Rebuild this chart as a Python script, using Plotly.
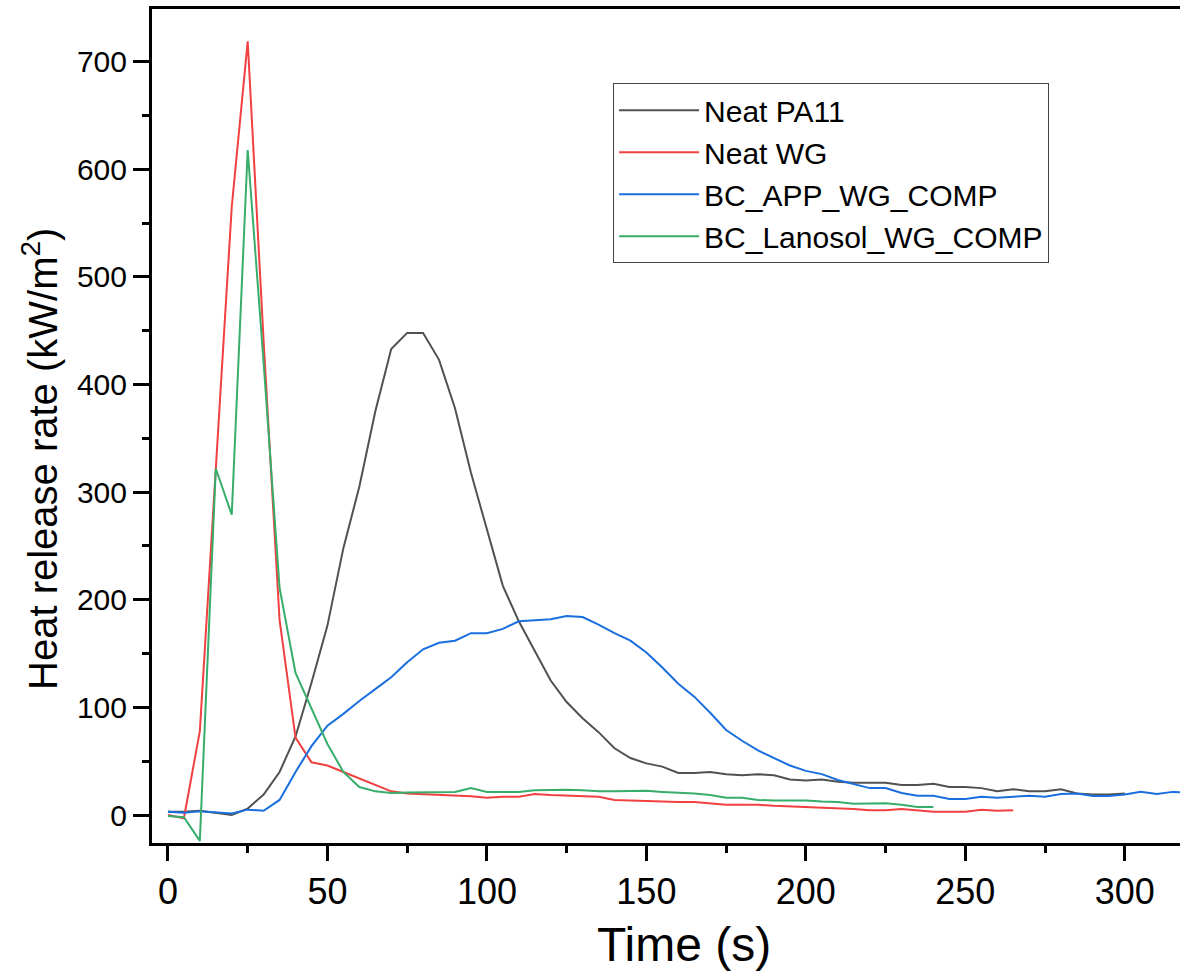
import plotly.graph_objects as go

# ---- data ----
time_pa11 = list(range(0, 305, 5))
neat_pa11 = [3, 3, 4, 2, 0, 6, 19, 40, 73, 123, 176, 248, 305, 375, 433, 448, 448, 423,
             378, 318, 265, 213, 180, 152, 125, 105, 90, 77, 62, 53, 48, 45, 39, 39, 40,
             38, 37, 38, 37, 33, 32, 33, 31, 30, 30, 30, 28, 28, 29, 26, 26, 25, 22, 24,
             22, 22, 24, 20, 19, 19, 20]

time_wg = list(range(0, 270, 5))
neat_wg = [0, -3, 78, 320, 565, 719, 440, 181, 72, 49, 46, 40, 34, 28, 22, 20, 19.5, 18.6,
           18, 17.5, 16, 17, 17, 19.5, 18.6, 18, 18, 17, 14, 13.5, 12.5, 12.5, 12, 12,
           10.5, 9.5, 9.5, 9.5, 8.5, 8, 7.5, 6.5, 6, 5.5, 4.5, 4.5, 5.5, 4, 3, 3, 3, 5,
           4, 4.5]

time_app = list(range(0, 325, 5))
bc_app = [3, 2, 3.5, 2.5, 1.5, 5, 4, 14, 40, 64, 83, 94, 106, 117, 128, 142, 154, 160,
          162, 169, 169, 173, 180, 181, 182, 185, 184, 177, 169, 162, 151, 137, 122, 110,
          95, 79, 69, 60, 53, 46, 41, 38, 32.5, 29, 25, 25, 20.5, 18, 18, 15, 15, 17, 16,
          17, 18, 17, 19.5, 20, 17.7, 17.7, 19, 21.5, 19.5, 21.5, 21]

time_lan = list(range(0, 245, 5))
bc_lanosol = [-1, -2, -24, 322, 279, 618, 420, 211, 132, 99, 66, 40, 26, 22, 20.5, 21, 21,
              21, 21.5, 25, 21.5, 21.5, 21.5, 23, 23.5, 23.5, 23, 22, 22, 22, 22.5, 21.5,
              21, 20, 18.6, 16, 16, 14, 13.5, 13.5, 13.5, 12.5, 12, 10.5, 10.5, 11, 9.5,
              7.5, 7.5]

series_names = ["Neat PA11", "Neat WG", "BC_APP_WG_COMP", "BC_Lanosol_WG_COMP"]
series_colors = ["#515151", "#F14040", "#1A6FDF", "#37AD6B"]

x_ticks = [0, 50, 100, 150, 200, 250, 300]
y_ticks = [0, 100, 200, 300, 400, 500, 600, 700]

FONT = "Arial, Liberation Sans, sans-serif"

fig = go.Figure()
for name, color, xs, ys in zip(series_names, series_colors,
                               [time_pa11, time_wg, time_app, time_lan],
                               [neat_pa11, neat_wg, bc_app, bc_lanosol]):
    fig.add_trace(go.Scatter(x=xs, y=ys, mode="lines", name=name,
                             line=dict(color=color, width=2)))

fig.update_layout(
    width=1180, height=975,
    margin=dict(l=152, r=0, t=9, b=132),
    plot_bgcolor="white", paper_bgcolor="white",
    font=dict(family=FONT, color="black"),
    showlegend=True,
    legend=dict(
        x=0.4485, y=0.911, xanchor="left", yanchor="top",
        bgcolor="white", bordercolor="#444444", borderwidth=1,
        font=dict(size=30, family=FONT, color="black"),
        itemwidth=80, tracegroupgap=0,
    ),
    xaxis=dict(
        range=[-5, 317.3], tickvals=x_ticks, showgrid=False, zeroline=False,
        showline=True, linecolor="black", linewidth=3, mirror=True,
        ticks="outside", ticklen=15, tickwidth=3, tickcolor="black",
        tickfont=dict(size=36, family=FONT, color="black"),
        minor=dict(dtick=25, ticks="outside", ticklen=7, tickwidth=3, tickcolor="black"),
    ),
    yaxis=dict(
        range=[-26, 749], tickvals=y_ticks, showgrid=False, zeroline=False,
        showline=True, linecolor="black", linewidth=3, mirror=False,
        ticks="outside", ticklen=16, tickwidth=3, tickcolor="black",
        tickfont=dict(size=30, family=FONT, color="black"),
        minor=dict(dtick=50, ticks="outside", ticklen=7, tickwidth=3, tickcolor="black"),
    ),
    annotations=[
        dict(text="Time (s)", x=0.5175, y=-0.1223, xref="paper", yref="paper",
             xanchor="center", yanchor="middle", showarrow=False,
             font=dict(size=48, family=FONT, color="black")),
        dict(text="Heat release rate (kW/m<sup>2</sup>)", x=-0.109, y=0.4604,
             xref="paper", yref="paper", xanchor="center", yanchor="middle",
             textangle=-90, showarrow=False,
             font=dict(size=40, family=FONT, color="black")),
    ],
)

fig.write_html("out.html")
